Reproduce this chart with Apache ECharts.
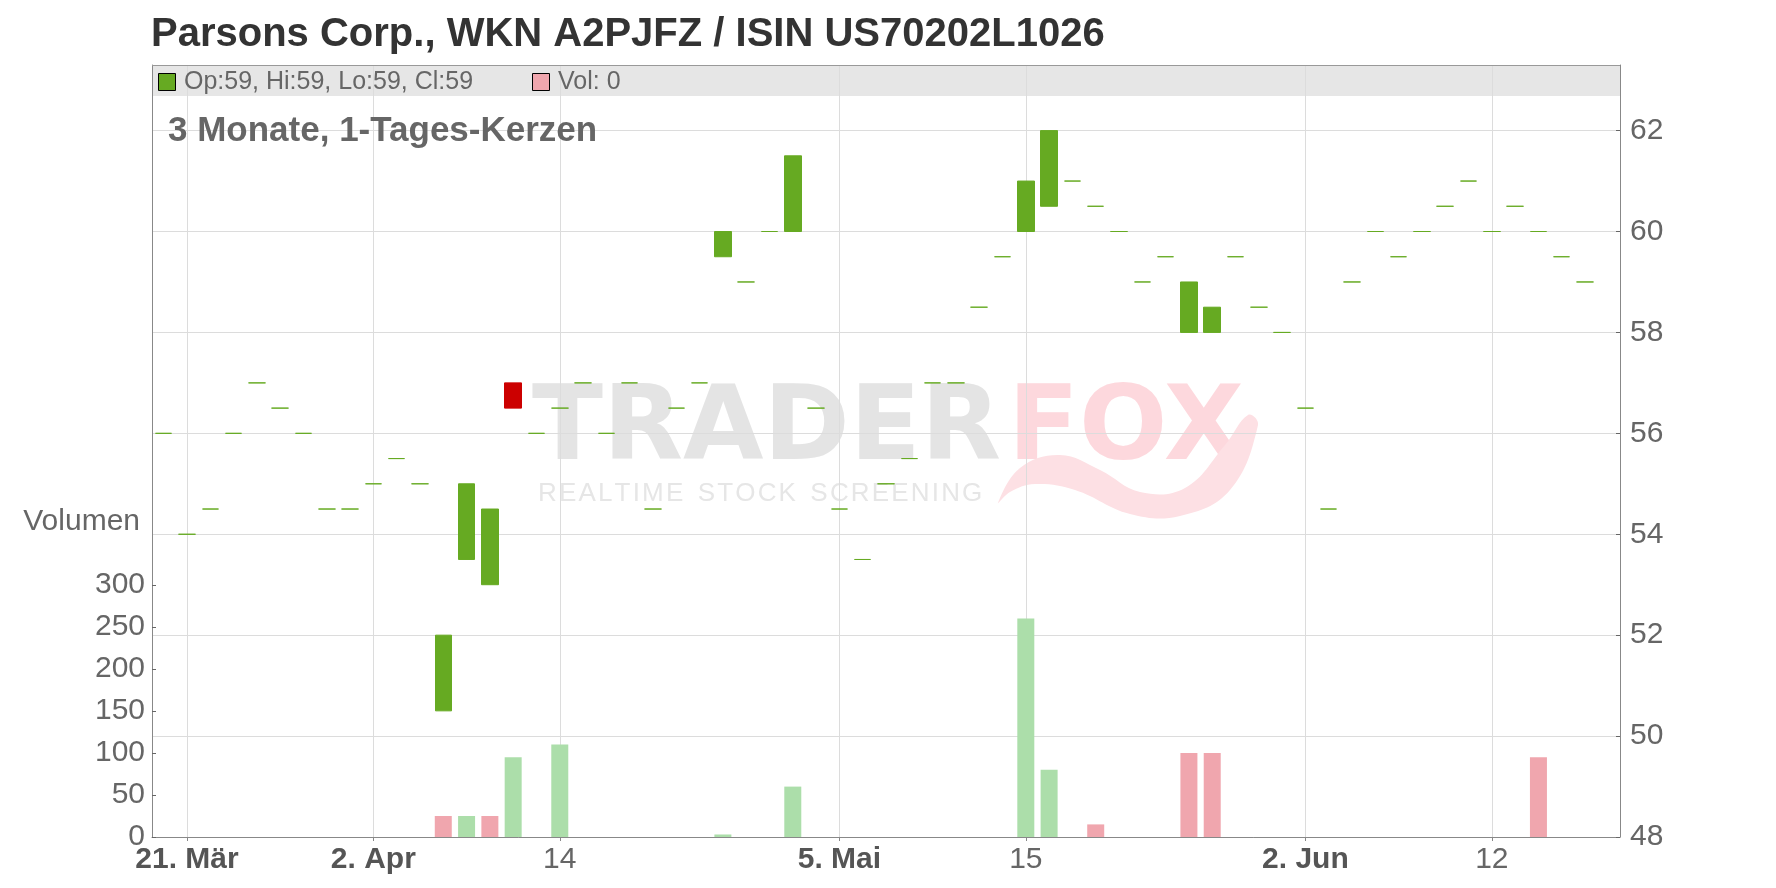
<!DOCTYPE html>
<html>
<head>
<meta charset="utf-8">
<script src="https://cdn.jsdelivr.net/npm/echarts@6/dist/echarts.min.js"></script>
<style>
html,body{margin:0;padding:0;background:#ffffff;}
#chart{width:1776px;height:888px;}
</style>
</head>
<body>
<div id="chart"></div>
<script>
// ---------------- data ----------------
const titleText = 'Parsons Corp., WKN A2PJFZ / ISIN US70202L1026';
const subtitleText = '3 Monate, 1-Tages-Kerzen';

const dates = [
  '2025-03-20','2025-03-21','2025-03-24','2025-03-25','2025-03-26','2025-03-27','2025-03-28','2025-03-31',
  '2025-04-01','2025-04-02','2025-04-03','2025-04-04','2025-04-07','2025-04-08','2025-04-09','2025-04-10',
  '2025-04-11','2025-04-14','2025-04-15','2025-04-16','2025-04-17','2025-04-22','2025-04-23','2025-04-24',
  '2025-04-25','2025-04-28','2025-04-29','2025-04-30','2025-05-02','2025-05-05','2025-05-06','2025-05-07',
  '2025-05-08','2025-05-09','2025-05-12','2025-05-13','2025-05-14','2025-05-15','2025-05-16','2025-05-19',
  '2025-05-20','2025-05-21','2025-05-22','2025-05-23','2025-05-26','2025-05-27','2025-05-28','2025-05-29',
  '2025-05-30','2025-06-02','2025-06-03','2025-06-04','2025-06-05','2025-06-06','2025-06-09','2025-06-10',
  '2025-06-11','2025-06-12','2025-06-13','2025-06-16','2025-06-17','2025-06-18'
];

const opens = [
  56, 54, 54.5, 56, 57, 56.5, 56, 54.5,
  54.5, 55, 55.5, 55, 50.5, 53.5, 53, 57,
  56, 56.5, 57, 56, 57, 54.5, 56.5, 57,
  59.5, 59, 60, 60, 56.5, 54.5, 53.5, 55,
  55.5, 57, 57, 58.5, 59.5, 60, 60.5, 61,
  60.5, 60, 59, 59.5, 58, 58, 59.5, 58.5,
  58, 56.5, 54.5, 59, 60, 59.5, 60, 60.5,
  61, 60, 60.5, 60, 59.5, 59
];

const closes = [
  56, 54, 54.5, 56, 57, 56.5, 56, 54.5,
  54.5, 55, 55.5, 55, 52, 55, 54.5, 56.5,
  56, 56.5, 57, 56, 57, 54.5, 56.5, 57,
  60, 59, 60, 61.5, 56.5, 54.5, 53.5, 55,
  55.5, 57, 57, 58.5, 59.5, 61, 62, 61,
  60.5, 60, 59, 59.5, 59, 58.5, 59.5, 58.5,
  58, 56.5, 54.5, 59, 60, 59.5, 60, 60.5,
  61, 60, 60.5, 60, 59.5, 59
];

const volumes = [
  0, 0, 0, 0, 0, 0, 0, 0,
  0, 0, 0, 0, 25, 25, 25, 95,
  0, 110, 0, 0, 0, 0, 0, 0,
  3, 0, 0, 60, 0, 0, 0, 0,
  0, 0, 0, 0, 0, 260, 80, 0,
  15, 0, 0, 0, 100, 100, 0, 0,
  0, 0, 0, 0, 0, 0, 0, 0,
  0, 0, 0, 95, 0, 0
];

const xTickDates  = ['2025-03-21','2025-04-02','2025-04-14','2025-05-05','2025-05-15','2025-06-02','2025-06-12'];
const xTickLabels = ['21. Mär','2. Apr','14','5. Mai','15','2. Jun','12'];
const priceTicks  = [48, 50, 52, 54, 56, 58, 60, 62];
const volumeTicks = [0, 50, 100, 150, 200, 250, 300];

// ---------------- styling ----------------
const FONT = "'Liberation Sans', Arial, Helvetica, sans-serif";
const WM_FONT = "'DejaVu Sans', 'Liberation Sans', sans-serif";
const GREEN = '#66aa22';
const RED = '#cc0000';
const VOL_UP = '#acdeaa';
const VOL_DOWN = '#f0a6ae';
const AXIS = '#888888';
const GRIDC = '#dcdcdc';
const LABEL = '#666666';

const categories = dates.concat(['']);

const candleData = opens.map((o, i) => {
  const c = closes[i];
  const item = { value: [o, c, Math.min(o, c), Math.max(o, c)] };
  if (o === c) {
    item.itemStyle = { borderColor: GREEN, borderColor0: GREEN, borderColorDoji: GREEN };
  }
  return item;
});

const volumeData = volumes.map((v, i) => ({
  value: v,
  itemStyle: { color: (i > 0 && closes[i] < closes[i - 1]) ? VOL_DOWN : VOL_UP }
}));

const last = opens.length - 1;
const lastO = opens[last], lastC = closes[last];
const legendPrice = 'Op:' + lastO + ', Hi:' + Math.max(lastO, lastC) + ', Lo:' + Math.min(lastO, lastC) + ', Cl:' + lastC;
const legendVol = 'Vol: ' + volumes[last];
const lastVolColor = closes[last] < closes[last - 1] ? VOL_DOWN : VOL_UP;

const isTick = (idx, val) => xTickDates.indexOf(val) >= 0;

const chart = echarts.init(document.getElementById('chart'), null, { renderer: 'canvas' });

const option = {
  backgroundColor: '#ffffff',
  animation: false,
  title: {
    text: titleText,
    left: 151,
    top: 15,
    padding: 0,
    textStyle: { fontFamily: FONT, fontSize: 40, fontWeight: 'bold', color: '#333333' }
  },
  grid: [
    { left: 152, right: 156, top: 65, bottom: 51, containLabel: false },
    { left: 152, right: 156, top: 585, bottom: 51, containLabel: false }
  ],
  xAxis: [
    {
      type: 'category', gridIndex: 0, data: categories, boundaryGap: true,
      axisLine: { show: true, lineStyle: { color: AXIS, width: 1 } },
      axisTick: { show: true, interval: isTick, alignWithLabel: true, length: 4, lineStyle: { color: AXIS } },
      splitLine: { show: true, interval: isTick, alignWithLabel: true, lineStyle: { color: GRIDC, width: 1 } },
      axisLabel: {
        show: true, interval: isTick, margin: 8,
        formatter: (val) => {
          const k = xTickDates.indexOf(val);
          if (k < 0) return '';
          const t = xTickLabels[k];
          return t.indexOf('.') >= 0 ? '{b|' + t + '}' : '{n|' + t + '}';
        },
        rich: {
          b: { fontFamily: FONT, fontSize: 30, fontWeight: 'bold', color: '#555555' },
          n: { fontFamily: FONT, fontSize: 30, color: LABEL }
        }
      }
    },
    {
      type: 'category', gridIndex: 1, data: categories, boundaryGap: true, show: false
    }
  ],
  yAxis: [
    {
      type: 'value', gridIndex: 0, position: 'right',
      min: priceTicks[0], max: 63.3, interval: priceTicks[1] - priceTicks[0],
      axisLine: { show: true, lineStyle: { color: AXIS, width: 1 } },
      axisTick: { show: true, inside: true, length: 4, lineStyle: { color: '#666666' } },
      splitLine: { show: true, lineStyle: { color: GRIDC, width: 1 } },
      axisLabel: {
        show: true, margin: 10, showMaxLabel: false,
        fontFamily: FONT, fontSize: 30, color: LABEL,
        formatter: (v) => priceTicks.indexOf(v) >= 0 ? String(v) : ''
      }
    },
    {
      type: 'value', gridIndex: 0, position: 'left', min: 0, max: 1,
      axisLine: { show: true, lineStyle: { color: AXIS, width: 1 } },
      axisTick: { show: false }, axisLabel: { show: false }, splitLine: { show: false }
    },
    {
      type: 'value', gridIndex: 1, position: 'left',
      min: volumeTicks[0], max: volumeTicks[volumeTicks.length - 1], interval: volumeTicks[1] - volumeTicks[0],
      axisLine: { show: true, lineStyle: { color: AXIS, width: 1 } },
      axisTick: { show: true, inside: true, length: 4, lineStyle: { color: '#666666' } },
      splitLine: { show: false },
      axisLabel: { show: true, margin: 7, fontFamily: FONT, fontSize: 30, color: LABEL }
    }
  ],
  series: [
    {
      name: 'Volumen', type: 'bar', xAxisIndex: 1, yAxisIndex: 2,
      barWidth: 17, data: volumeData, z: 2, silent: true
    },
    {
      name: 'Kurs', type: 'candlestick', xAxisIndex: 0, yAxisIndex: 0,
      barWidth: 17, data: candleData, z: 3, silent: true,
      itemStyle: {
        color: GREEN, color0: RED,
        borderColor: GREEN, borderColor0: RED, borderColorDoji: GREEN,
        borderWidth: 1
      }
    }
  ],
  graphic: {
    elements: [
      // legend band
      { type: 'rect', z: -1, silent: true, shape: { x: 152, y: 65, width: 1468, height: 31 }, style: { fill: '#e6e6e6' } },
      { type: 'line', z: 50, silent: true, shape: { x1: 152, y1: 65.5, x2: 1620, y2: 65.5 }, style: { stroke: '#999999', lineWidth: 1 } },
      { type: 'rect', z: 50, silent: true, shape: { x: 158.5, y: 73.5, width: 17, height: 17 }, style: { fill: GREEN, stroke: '#000000', lineWidth: 1 } },
      { type: 'text', z: 50, silent: true, x: 184, y: 82, style: { text: legendPrice, fontFamily: FONT, fontSize: 25, fill: LABEL, textVerticalAlign: 'middle' } },
      { type: 'rect', z: 50, silent: true, shape: { x: 532.5, y: 73.5, width: 17, height: 17 }, style: { fill: lastVolColor, stroke: '#000000', lineWidth: 1 } },
      { type: 'text', z: 50, silent: true, x: 558, y: 82, style: { text: legendVol, fontFamily: FONT, fontSize: 25, fill: LABEL, textVerticalAlign: 'middle' } },
      // subtitle
      { type: 'text', z: 50, silent: true, x: 168, y: 131, style: { text: subtitleText, fontFamily: FONT, fontSize: 35, fontWeight: 'bold', fill: LABEL, textVerticalAlign: 'middle' } },
      // volume axis name
      { type: 'text', z: 50, silent: true, x: 140, y: 522, style: { text: 'Volumen', fontFamily: FONT, fontSize: 30, fill: LABEL, textAlign: 'right', textVerticalAlign: 'middle' } },
      // watermark
      { type: 'text', z: -1, silent: true, x: 532, y: 432, style: { text: 'TRADER', fontFamily: WM_FONT, fontSize: 104, fontWeight: 'bold', fill: '#e4e4e4', textVerticalAlign: 'middle' } },
      { type: 'text', z: -1, silent: true, x: 1008, y: 432, style: { text: 'FOX', fontFamily: WM_FONT, fontSize: 104, fontWeight: 'bold', fill: '#fdd8dd', textVerticalAlign: 'middle' } },
      { type: 'text', z: -1, silent: true, x: 538, y: 494, style: { text: 'R\u200AE\u200AA\u200AL\u200AT\u200AI\u200AM\u200AE  S\u200AT\u200AO\u200AC\u200AK  S\u200AC\u200AR\u200AE\u200AE\u200AN\u200AI\u200AN\u200AG', fontFamily: FONT, fontSize: 26, fill: '#e6e6e6', textVerticalAlign: 'middle' } },
      { type: 'polygon', z: -1, silent: true, shape: { smooth: 0.4, points: [[998,503],[1020,468],[1060,455],[1100,470],[1140,492],[1185,488],[1225,445],[1248,415],[1258,425],[1230,490],[1180,516],[1130,514],[1075,490],[1035,484],[1010,492]] }, style: { fill: '#fde0e4' } }
    ]
  }
};

chart.setOption(option);
</script>
</body>
</html>
